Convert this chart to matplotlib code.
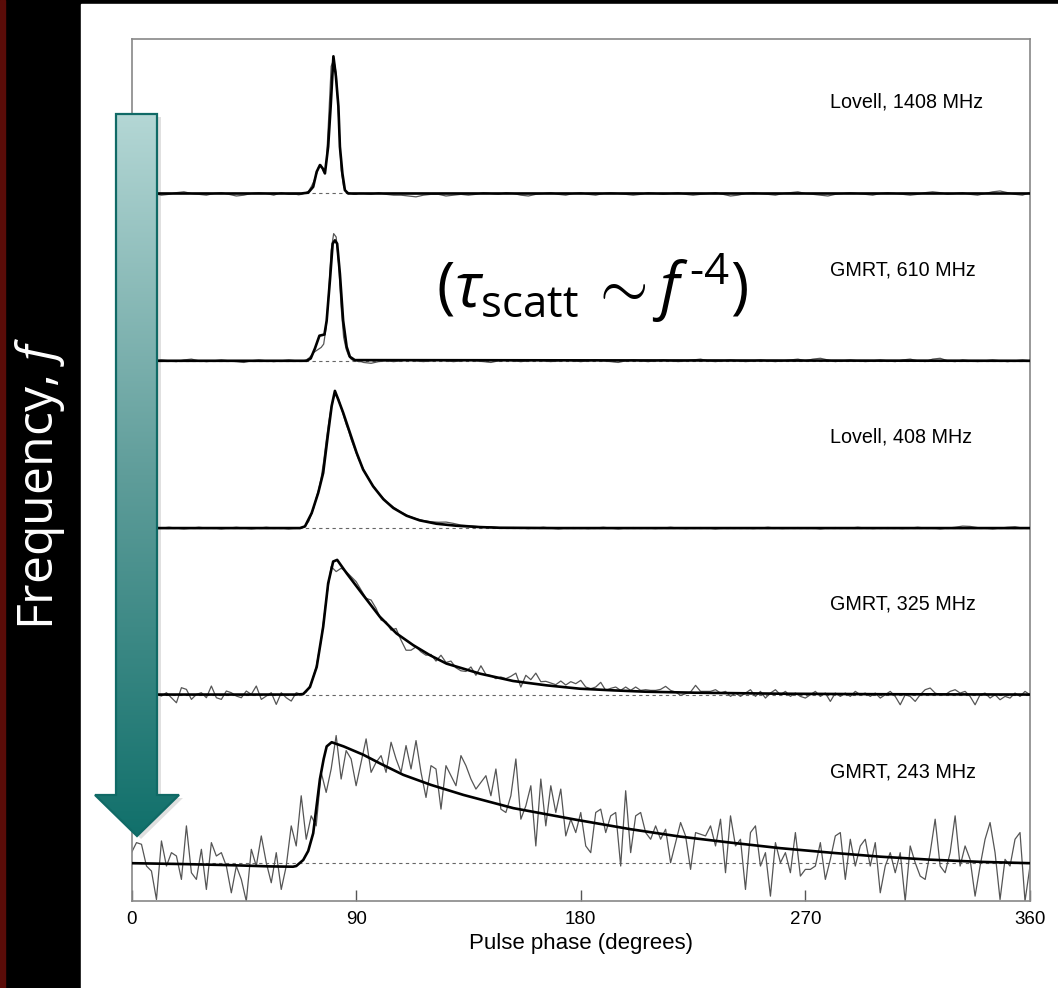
import numpy as np
import matplotlib.pyplot as plt
from matplotlib.patches import Rectangle, PathPatch
from matplotlib.path import Path
from matplotlib.colors import LinearSegmentedColormap

plt.rcParams['font.family'] = ['Liberation Sans', 'DejaVu Sans']
plt.rcParams['mathtext.fontset'] = 'custom'
plt.rcParams['mathtext.rm'] = 'Open Sans'
plt.rcParams['mathtext.it'] = 'Open Sans:italic'

# ---- data (relative intensity, % of panel height) ----
labels = ['Lovell, 1408 MHz', 'GMRT, 610 MHz', 'Lovell, 408 MHz',
          'GMRT, 325 MHz', 'GMRT, 243 MHz']

# phase grid of the three bright profiles (finer over the pulse)
phase_grid = np.concatenate([np.arange(0, 66, 3), np.arange(66, 93), np.arange(93, 361, 3)])
# phase grid of the two low-frequency profiles
phase_2deg = np.arange(0, 361, 2)

prof_1408 = [0.5, -0.5, 1, 0, -1, -0.5, 0.5, 1, 0, -0.5, -1, 0, 0.5, -0.5, -1.5, -1, 0, 0.5, 0, -1, 0.5, -0.5,
             -0.5, -0.8, -0.5, 0, 0.5, 1.5, 4, 7, 11, 16, 17, 13, 16, 45, 76, 80, 72, 45, 14, 4, 1, 0.5, 0, -0.5, -0.5, 0, 0,
             0, -0.5, 0.5, -0.5, -1, -1, -1.5, -2, -1, -0.5,
             -0.5, -1.5, -1, -0.5, -1, -0.5, 0.5, 0, -0.5, 0.5,
             0, -1, -1.5, -0.5, 0, 0.5, -0.5, -1, 0, 0.5,
             -0.5, -1, 0, 0.5, 0, -0.5, -1, -0.5, 0.5, 0,
             -0.5, 0, 0.5, -0.5, -1, -0.5, 0, 0.5, -0.5, -1.5,
             -1, 0, 0.5, 0, -0.5, -1, 0, 0.5, 1, 0,
             -0.5, -1, -1.5, -0.5, 0, 0.5, 0, -0.5, -1, 0,
             0.5, 0, -0.5, -1, -0.5, 0.5, 1, 0.5, -0.5, 0,
             0.5, -0.5, -1, 0, 1, 1.5, 0.5, -0.5, -1, 0.5]

prof_610 = [0, 0.5, -0.5, 0, 0.5, 0, -0.5, 0.5, 1, 0, -0.5, 0, 0.5, 0, -0.5, -1, 0, 0.5, 0, -0.5, 0, 0.5,
            0, 0, 0, 0, 0.5, 1.5, 3, 5, 6, 7, 8, 10, 20, 40, 66, 76, 74, 58, 32, 14, 7, 3, 1, 0, 0, -0.5, -0.5,
            -1, -1.5, -0.5, 0, -0.5, 0, 0.5, 0, -0.5, 0,
            0.5, 0, -0.5, 0, 0.5, 0, -0.5, -1, 0, 0.5,
            0, -0.5, 0, 0.5, 0, -0.5, 0, 0.5, 0, -0.5,
            0, 0.5, 0, -0.5, -1, 0, 0.5, 0, -0.5, 0,
            0.5, 0, -0.5, 0, 0.5, 1, 0, -0.5, 0, 0.5,
            0, -0.5, 0, 0.5, 0, -0.5, 0, 0.5, 1, 0,
            1, 1.5, 0.5, -0.5, 0, 0.5, 0, -0.5, 0, 0.5,
            0, -0.5, 0.5, 1, 0, -0.5, 1, 1.5, 0, -0.5,
            0.5, 0, -0.5, 0, 0.5, 0, -0.5, 0, 0.5, 0]

prof_408 = [0, 0.5, 0, -0.5, 0, 0.5, 0, -0.5, 0, 0.5, 0, 0, -0.5, 0, 0.5, 0, -0.5, 0, 0.5, 0, 0, -0.5,
            0, 0, 0.3, 0.8, 2, 4, 8, 12, 18, 23, 30, 40, 52, 63, 72, 78, 80, 77, 72, 67, 62, 58, 53, 49, 45, 41, 38,
            35, 27, 21, 16, 12.5, 9.5, 7.2, 5.6, 4.5, 3.8,
            3.5, 3.6, 2.8, 1.8, 1.5, 1.0, 0.6, 0.8, 0.3, 0,
            0.3, 0, -0.3, 0, 0.5, 0, -0.5, 0, 0.3, 0,
            -0.3, 0, 0.5, 0, -0.5, 0, 0.3, 0, 0, -0.3,
            0, 0.5, 0, -0.3, 0, 0.3, 0, -0.5, 0, 0.3,
            0, 0, -0.3, 0, 0.5, 0, -0.3, 0, 0.3, 0,
            0, -0.5, 0, 0.3, 0, 0, 0.5, 0, -0.3, 0,
            0.3, 0, -0.3, 0, 0.5, 0, 0, -0.5, 0, 0.5,
            1.2, 1.0, 0.3, 0, -0.5, 0, 0.5, 0.8, 0, 0]

prof_325 = [1, -1, 2, 0, -2, 1,
            -0.4, 1.6, -1.4, -4.4, 4.6, 3.6, -2.4, 0.6, 1.6, -1.4, 5.6, -1.4, -2.4, 2.6, 1.6, -0.4, -1.4, 2.6,
            0.6, 5.6, -2.4, -0.4, 1.6, -5.4, 1.6, -1.4, -3.4, 1.6, 0.6,
            2, 7, 17, 33, 57, 77, 74, 76, 74,
            71, 68, 63, 58, 57, 52, 45, 44, 39, 40,
            33, 27, 27, 29, 26, 24, 24.5, 20.5, 24, 19.7,
            20.5, 16.5, 14.7, 14.3, 17, 12, 17.7, 12.5, 11.8, 10,
            11, 10, 11.4, 13.3, 5, 12, 9.4, 13.3, 8.2, 8.4,
            7.4, 6.4, 8.6, 6.2, 8.2, 7, 9, 5, 4, 5,
            7.8, 3, 4.2, 5, 3, 5, 3, 5, 3, 3.4,
            3, 3, 3.6, 5.4, 3, 2, 0, 1, 2, 6,
            2.4, 2.4, 2.4, 3.4, 1.4, 2.4, -0.6, 1.4, -0.6, 1.4,
            3.4, -0.6, 2.4, -1.6, 1.4, 3.4, 0.4, 2.4, -0.6, 1.4,
            -0.6, -1.6, 0.4, 2.4, -0.6, 1.4, -3.6, 1.4, -0.6, 1.4,
            -0.6, 2.4, 0.4, 1.4, -0.6, 1.4, -1.6, 0.4, 2.4, -0.6,
            -5.6, 0.4, -0.6, -3.6, 0.4, 3.4, 4.4, 1.4, 0.4, 0.4,
            2.4, 3.4, 1.4, 2.4, -0.6, -5.6, 0.4, 1.4, -1.6, 0.4,
            -2.6, -0.6, -1.6, 1.4, -0.6, 2.4, 0.4]

prof_243 = [6, 12, 11, -2, -5, -22, 13, -2, 6, 4,
            -10, 22, -6, -10, 8, -16, 12, 4, 6, -2,
            -18, -2, -10, -23, 8, -2, 16, 0, -12, 6,
            -16, -2, 22, 10, 40, 14, 28, 22, 54, 42,
            56, 76, 50, 67, 62, 46, 60, 74, 54, 60,
            64, 54, 72, 62, 54, 70, 56, 73, 54, 39,
            58, 56, 32, 58, 52, 46, 64, 58, 50, 44,
            48, 52, 40, 56, 32, 30, 40, 62, 26, 34,
            46, 10, 50, 22, 46, 30, 44, 16, 26, 18,
            30, 10, 6, 30, 32, 18, 28, 30, -2, 43,
            6, 28, 30, 18, 14, 22, 14, 20, 0, 12,
            24, 16, -4, 18, 17, 16, 22, 10, 26, -6,
            28, 10, 14, -16, 18, 22, -2, 6, -20, 12,
            0, 6, -6, 18, -8, -4, -4, -2, 12, -10,
            2, 16, 18, -10, 14, -2, 10, 14, -2, 12,
            -18, -2, 6, -6, 6, -23, 10, 0, -8, -10,
            6, 26, -2, -6, 6, 28, -2, 10, 2, -20,
            -2, 14, 24, 6, -22, 2, -2, 14, 18, -23,
            -2]

# scattered-pulse model fits
fit_phase_1408 = [0, 68, 70.8, 72.8, 74.2, 75.5, 76.6, 77.5, 78.8, 79.8, 80.9, 81.9, 82.9, 83.5, 84.5, 85.5, 86.8, 360]
fit_1408 = [0, 0, 0.5, 4, 13, 17, 15, 12, 28, 52, 82, 70, 52, 28, 12, 2, 0, 0]

fit_phase_610 = [0, 70.2, 71.8, 73.5, 75.3, 77.3, 78.2, 79.5, 80.6, 81.5, 82.4, 83.5, 84.8, 86.2, 87.5, 89.5, 360]
fit_610 = [0, 0, 1.4, 7.4, 15, 15.7, 24, 48, 70, 72, 70, 52, 24, 8.4, 2.4, 0.4, 0]

fit_phase_408 = [0, 67.5, 69.5, 72.2, 74.8, 76.8, 78.8, 80.2, 81.5, 82.8, 84.8, 87.5, 90.2, 92.8, 96.8,
                 100.9, 104.9, 110.2, 115.5, 122.2, 130.2, 139.6, 147.5, 170, 360]
fit_408 = [0, 0, 1, 9, 21, 33, 57, 73, 82, 77, 69, 57, 45, 35, 25,
           17.3, 12, 7.4, 4.6, 2.6, 1.4, 0.6, 0.2, 0, 0]

fit_phase_325 = [0, 66, 68.8, 71.5, 74.2, 76.8, 78.8, 80.8, 82.4, 86.2, 92.8, 99.5, 106.2, 112.9, 119.6,
                 126.2, 139.6, 152.9, 166.3, 179.6, 193, 206, 226, 260, 300, 360]
fit_325 = [0.5, 0.5, 0.8, 5, 17, 41, 67, 80, 81, 73, 60, 47, 37, 30, 24,
           19, 13, 8.6, 6, 4, 3, 2.2, 1.6, 1, 0.7, 0.5]

fit_phase_243 = [0, 20, 40, 55, 64.7, 66, 68.8, 70.8, 72.8, 74, 75.5, 77, 78.2, 80.2, 85, 92.9, 100,
                 108.9, 120, 133, 153, 178.4, 200, 219.8, 240, 259.8, 280, 299.9, 320, 340, 360]
fit_243 = [-0.3, -0.8, -1.5, -2.2, -2.4, -2, 1.6, 7, 17.6, 32, 50, 62, 69.5, 72, 69.5, 64.5, 59,
           52.5, 46.5, 40.5, 32.6, 25.6, 20, 15.6, 12, 8.7, 6, 3.6, 1.8, 0.5, -0.3]

panels = [
    (phase_grid, prof_1408, fit_phase_1408, fit_1408),
    (phase_grid, prof_610, fit_phase_610, fit_610),
    (phase_grid, prof_408, fit_phase_408, fit_408),
    (phase_2deg, prof_325, fit_phase_325, fit_325),
    (phase_2deg, prof_243, fit_phase_243, fit_243),
]

# ---- figure ----
W, H = 1058, 988
fig = plt.figure(figsize=(W / 100, H / 100), dpi=100, facecolor='black')

bg = fig.add_axes([0, 0, 1, 1], zorder=0)
bg.set_xlim(0, W)
bg.set_ylim(H, 0)
bg.axis('off')
bg.add_patch(Rectangle((0, 0), 5, H, color='#5a0c08'))
bg.add_patch(Rectangle((81, 4), W - 81, H - 4, color='white'))

ax = fig.add_axes([131.5 / W, 1 - 901 / H, (1030 - 131.5) / W, (901 - 39) / H], zorder=1)
ax.patch.set_alpha(0)

n = len(panels)
for k, (ph, prof, fph, fit) in enumerate(panels):
    off = 0.229 + (n - 1 - k) * 1.0
    ax.plot([0, 360], [off, off], color='#666666', lw=0.8, ls=(0, (3, 3)), zorder=1)
    ax.plot(ph, off + np.array(prof) / 100, color='#555555', lw=0.9, zorder=2)
    ax.plot(fph, off + np.array(fit) / 100, color='black', lw=1.9, zorder=3)
    ax.text(280, off + 0.545, labels[k], fontsize=14.2, ha='left', va='center')

ax.set_xlim(0, 360)
ax.set_ylim(0, 862 / 167.3)
ax.set_xticks([0, 90, 180, 270, 360])
ax.set_yticks([])
ax.tick_params(axis='x', direction='in', length=8, width=1, color='#555555',
               labelsize=13.5, pad=7)
for s in ax.spines.values():
    s.set_color('#888888')
    s.set_linewidth(1.2)
ax.set_xlabel('Pulse phase (degrees)', fontsize=16, labelpad=4)

# ---- overlay: arrow and annotations ----
ov = fig.add_axes([0, 0, 1, 1], zorder=5)
ov.set_xlim(0, W)
ov.set_ylim(H, 0)
ov.axis('off')
ov.patch.set_alpha(0)

verts = [(116, 114), (157, 114), (157, 795), (179, 795), (137, 836), (95, 795), (116, 795), (116, 114)]
codes = [Path.MOVETO] + [Path.LINETO] * 6 + [Path.CLOSEPOLY]
shadow = PathPatch(Path([(x + 4, y + 3) for x, y in verts], codes), facecolor='#000000',
                   edgecolor='none', alpha=0.12)
ov.add_patch(shadow)
arrow = PathPatch(Path(verts, codes), facecolor='none', edgecolor='#106a66', lw=1.6)
ov.add_patch(arrow)
cmap = LinearSegmentedColormap.from_list('teal', ['#b4d7d5', '#5f9d9a', '#11706b'])
grad = ov.imshow(np.linspace(0, 1, 256).reshape(-1, 1), cmap=cmap, aspect='auto',
                 extent=(95, 179, 836, 114), origin='upper', zorder=1)
grad.set_clip_path(arrow)
arrow.set_zorder(2)

ov.text(40, 483, 'Frequency, $f$', rotation=90, color='white', fontsize=36,
        family='Open Sans', ha='center', va='center')
ov.text(592, 288, r'$(\tau_{\mathrm{scatt}}\,\sim f^{\,\text{-4}})$', fontsize=45,
        color='black', ha='center', va='center')

fig.savefig('out.png', dpi=100, facecolor='black')
